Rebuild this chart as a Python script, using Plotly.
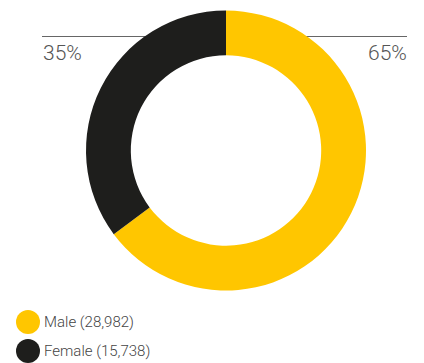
import plotly.graph_objects as go

categories = ["Male", "Female"]
values = [28982, 15738]
percent_labels = ["65%", "35%"]
colors = ["#FFC600", "#1E1E1C"]

W, H = 424, 363
fig = go.Figure()
fig.add_trace(go.Pie(
    labels=categories, values=values, hole=0.68, sort=False,
    direction="clockwise", rotation=0,
    marker=dict(colors=colors, line=dict(width=0)),
    textinfo="none", hoverinfo="label+value", showlegend=False,
    domain=dict(x=[(226 - 140) / W, (226 + 140) / W],
                y=[(H - 150.5 - 140) / H, (H - 150.5 + 140) / H]),
))

# top reference line behind the donut
fig.add_shape(type="line", xref="paper", yref="paper",
              x0=42 / W, x1=407 / W, y0=(H - 36.5) / H, y1=(H - 36.5) / H,
              line=dict(color="#666666", width=1), layer="below")

# percentage labels
fig.add_annotation(x=41 / W, y=(H - 53) / H, xref="paper", yref="paper",
                   text=percent_labels[1], showarrow=False, xanchor="left", yanchor="middle",
                   font=dict(family="Roboto", size=21, color="#555555", weight=300))
fig.add_annotation(x=409 / W, y=(H - 53) / H, xref="paper", yref="paper",
                   text=percent_labels[0], showarrow=False, xanchor="right", yanchor="middle",
                   font=dict(family="Roboto", size=21, color="#555555", weight=300))

# custom legend
for i, (cat, val, col) in enumerate(zip(categories, values, colors)):
    cy = 322 + i * 29
    fig.add_shape(type="circle", xref="paper", yref="paper",
                  x0=16 / W, x1=40 / W, y0=(H - cy - 12) / H, y1=(H - cy + 12) / H,
                  fillcolor=col, line=dict(width=0))
    fig.add_annotation(x=42 / W, y=(H - cy) / H, xref="paper", yref="paper",
                       text=f"{cat} ({val:,})", showarrow=False, xanchor="left", yanchor="middle",
                       font=dict(family="Roboto", size=15, color="#444444", weight=300))

fig.update_layout(width=W, height=H, margin=dict(l=0, r=0, t=0, b=0),
                  paper_bgcolor="white", plot_bgcolor="white")
fig.write_html("out.html")
